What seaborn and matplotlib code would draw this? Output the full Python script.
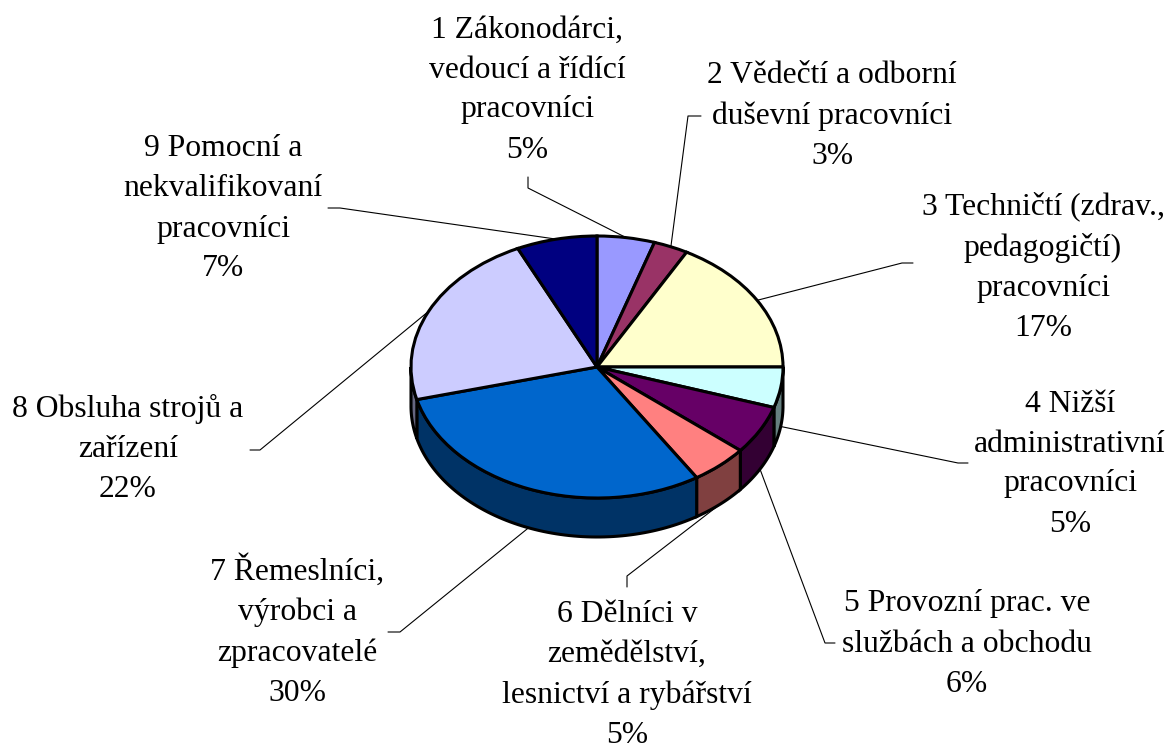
import matplotlib.pyplot as plt
import seaborn as sns
import numpy as np

# data
categories = [
    "1 Zákonodárci,\nvedoucí a řídící\npracovníci",
    "2 Vědečtí a odborní\nduševní pracovníci",
    "3 Techničtí (zdrav.,\npedagogičtí)\npracovníci",
    "4 Nižší\nadministrativní\npracovníci",
    "5 Provozní prac. ve\nslužbách a obchodu",
    "6 Dělníci v\nzemědělství,\nlesnictví a rybářství",
    "7 Řemeslníci,\nvýrobci a\nzpracovatelé",
    "8 Obsluha strojů a\nzařízení",
    "9 Pomocní a\nnekvalifikovaní\npracovníci",
]
values = [5, 3, 17, 5, 6, 5, 30, 22, 7]
colors = ["#9999FF", "#993366", "#FFFFCC", "#CCFFFF", "#660066",
          "#FF8080", "#0066CC", "#CCCCFF", "#000080"]

# layout (pixels from top-left of the 1170x751 picture)
W, H = 1170, 751
CX, CY = 597, 367      # centre of the pie top
RX, RY = 186, 131      # radii of the tilted ellipse
DEPTH = 39             # height of the side wall
label_pos = [(527, 90), (832, 116), (1043, 267), (1070, 464), (967, 644),
             (627, 675), (297, 631), (128, 449), (223, 209)]
leader = [((528, 188), (528, 177)), ((688, 116), (701, 116)),
          ((902, 263), (913, 263)), ((958, 463), (968, 463)),
          ((825, 643), (835, 643)), ((627, 576), (627, 587)),
          ((400, 632), (388, 632)), ((260, 450), (250, 450)),
          ((340, 208), (328, 208))]


def p2d(x, y):
    return (x - CX) / RX, (CY - y) / RY


sns.set_theme(style="white")
plt.rcParams["font.family"] = ["Liberation Serif", "DejaVu Serif"]

fig = plt.figure(figsize=(W / 100, H / 100), dpi=100)
ax = fig.add_axes([0, 0, 1, 1])

palette = sns.color_palette(colors)
wedges, _ = ax.pie(values, colors=palette, startangle=90, counterclock=False,
                   wedgeprops=dict(edgecolor="black", linewidth=2.2, zorder=2))
ax.set_aspect("auto")
ax.set_xlim(-CX / RX, (W - CX) / RX)
ax.set_ylim((CY - H) / RY, CY / RY)
ax.axis("off")

d = DEPTH / RY
# side wall of the front half
for w, c in zip(wedges, palette):
    a, b = max(w.theta1, -180), min(w.theta2, 0)
    if b <= a:
        continue
    t = np.radians(np.linspace(a, b, 80))
    xs = np.concatenate([np.cos(t), np.cos(t[::-1])])
    ys = np.concatenate([np.sin(t), np.sin(t[::-1]) - d])
    dark = tuple(v * 0.5 for v in c)
    ax.fill(xs, ys, facecolor=dark, edgecolor="black", linewidth=2.2, zorder=1)

total = sum(values)
for w, cat, v, (lx, ly), (elbow, end) in zip(wedges, categories, values,
                                             label_pos, leader):
    mid = np.radians((w.theta1 + w.theta2) / 2)
    px, py = np.cos(mid), np.sin(mid)
    if py < 0:
        py -= d
    ex, ey = p2d(*elbow)
    tx, ty = p2d(*end)
    ax.plot([px, ex, tx], [py, ey, ty], color="black", linewidth=0.8,
            zorder=3)
    ax.text(*p2d(lx, ly), f"{cat}\n{v / total * 100:.0f}%", ha="center",
            va="center", fontsize=22.8, linespacing=1.5,
            multialignment="center", color="black")

fig.savefig("out.png", dpi=100)
